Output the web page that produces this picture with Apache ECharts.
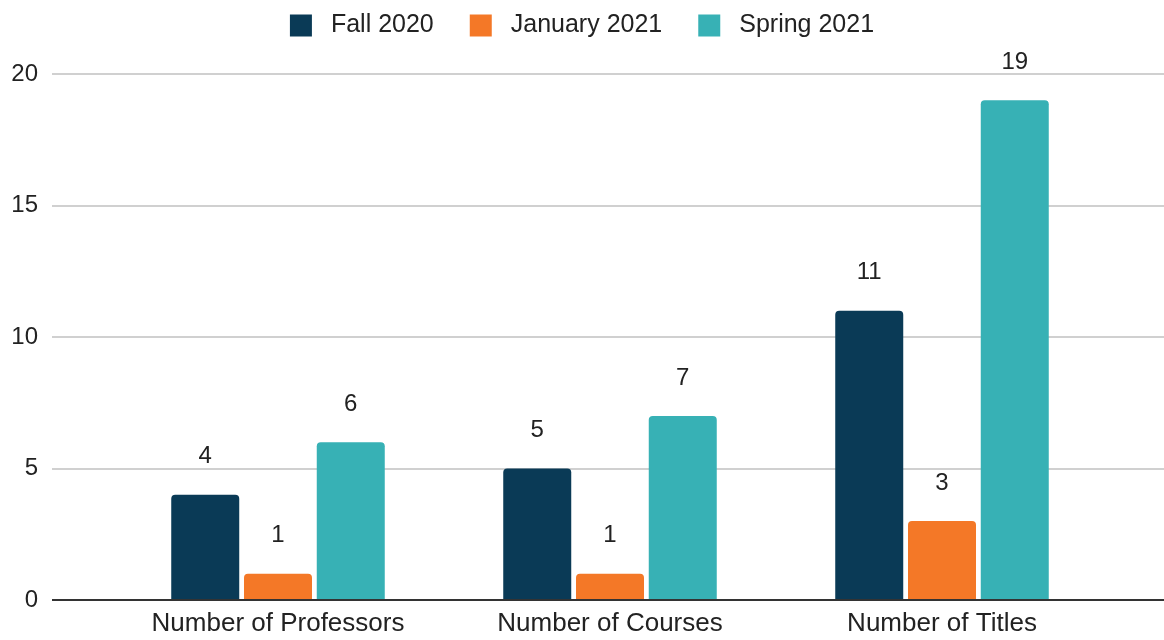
<!DOCTYPE html>
<html>
<head>
<meta charset="utf-8">
<script src="https://cdn.jsdelivr.net/npm/echarts@6/dist/echarts.min.js"></script>
<style>html,body{margin:0;padding:0;background:#fff}#c{width:1164px;height:640px}</style>
</head>
<body>
<div id="c"></div>
<script>
const categories = ['Number of Professors', 'Number of Courses', 'Number of Titles'];
const seriesNames = ['Fall 2020', 'January 2021', 'Spring 2021'];
const fall2020 = [4, 5, 11];
const january2021 = [1, 1, 3];
const spring2021 = [6, 7, 19];
const colors = ['#0a3a56', '#f47827', '#37b1b5'];
const yTicks = { min: 0, max: 20, interval: 5 };

const FONT = 'Liberation Sans, Arial, sans-serif';
const chart = echarts.init(document.getElementById('c'));
const values = [fall2020, january2021, spring2021];
chart.setOption({
  animation: false,
  legend: {
    top: 8, left: 'center',
    itemWidth: 22, itemHeight: 22, itemGap: 36,
    icon: 'rect',
    textStyle: { fontFamily: FONT, fontSize: 25, color: '#222', padding: [0, 0, 0, 14] },
    data: seriesNames
  },
  grid: [
    { left: 52, right: 0, top: 74, bottom: 40 },
    { left: 112, right: 56, top: 74, bottom: 40 }
  ],
  xAxis: [
    { gridIndex: 0, type: 'value', min: 0, max: 1, show: true,
      axisLine: { show: false }, axisTick: { show: false }, axisLabel: { show: false }, splitLine: { show: false } },
    { gridIndex: 1, type: 'category', data: categories,
      axisLine: { show: false }, axisTick: { show: false },
      axisLabel: { fontFamily: FONT, fontSize: 26, color: '#222', margin: 11 } }
  ],
  yAxis: [
    { gridIndex: 0, type: 'value', min: yTicks.min, max: yTicks.max, interval: yTicks.interval,
      axisLine: { show: false }, axisTick: { show: false },
      axisLabel: { fontFamily: FONT, fontSize: 24, color: '#222', margin: 14 },
      splitLine: { lineStyle: { color: '#d0d0d0', width: 2 } } },
    { gridIndex: 1, type: 'value', min: yTicks.min, max: yTicks.max, interval: yTicks.interval, show: false,
      splitLine: { show: false } }
  ],
  series: [
    { type: 'line', xAxisIndex: 0, yAxisIndex: 0, data: [[0, 0], [1, 0]], symbol: 'none',
      lineStyle: { color: '#333', width: 2 }, itemStyle: { color: '#333' }, silent: true, z: 5, name: '__axis' }
  ].concat(seriesNames.map((n, i) => ({
    name: n, type: 'bar', xAxisIndex: 1, yAxisIndex: 1, data: values[i],
    barWidth: 68, barGap: '7%',
    itemStyle: { color: colors[i], borderRadius: [4, 4, 0, 0] },
    label: { show: true, position: 'top', distance: 26, fontFamily: FONT, fontSize: 24, color: '#222' }
  })))
});
</script>
</body>
</html>
